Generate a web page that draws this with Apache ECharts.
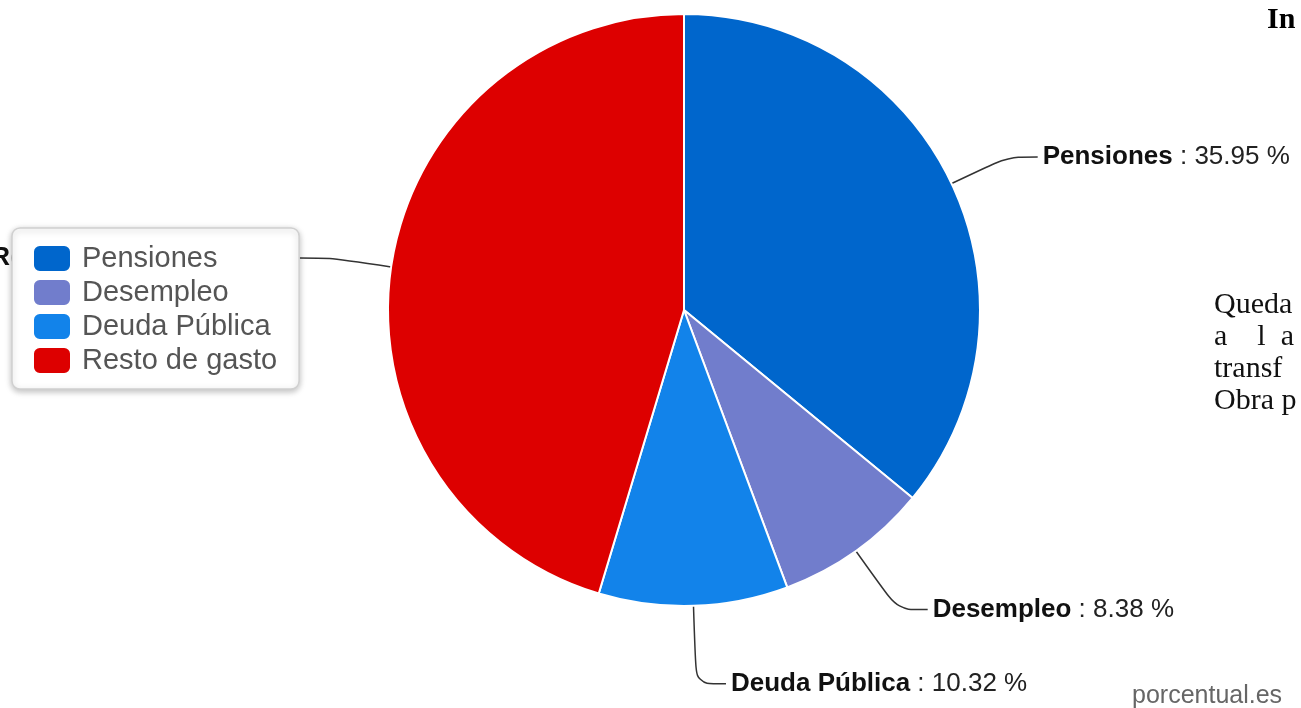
<!DOCTYPE html>
<html>
<head>
<meta charset="utf-8">
<script src="https://cdn.jsdelivr.net/npm/echarts@6/dist/echarts.min.js"></script>
<style>
  html, body { margin: 0; padding: 0; background: #fff; }
  #chart { width: 1301px; height: 708px; }
</style>
</head>
<body>
<div id="chart"></div>
<script>
// datos del gasto (%)
const categories = ['Pensiones', 'Desempleo', 'Deuda Pública', 'Resto de gasto'];
const values = [35.95, 8.38, 10.32, 45.35];
const colors = ['#0066cc', '#717dcc', '#1283ea', '#dd0000'];
const lineLengths = [62, 72, 78, 62];

// fragmentos de texto de la pagina
const sideText = ['Queda', 'a    l  a', 'transf', 'Obra p'];

const chart = echarts.init(document.getElementById('chart'));

const pieData = categories.map((name, i) => ({
  name: name,
  value: values[i],
  itemStyle: { color: colors[i] },
  labelLine: { length: lineLengths[i] }
}));

const option = {
  animation: false,
  legend: {
    orient: 'vertical',
    left: 12,
    top: 228,
    padding: [16, 22, 14, 20],
    itemWidth: 38,
    itemHeight: 27,
    itemGap: 5,
    icon: 'roundRect',
    backgroundColor: '#fff',
    borderColor: '#d0d0d0',
    borderWidth: 1.5,
    borderRadius: 8,
    shadowBlur: 6,
    shadowColor: 'rgba(0,0,0,0.25)',
    shadowOffsetY: 2,
    textStyle: {
      fontFamily: 'Liberation Sans, Arial, sans-serif',
      fontSize: 29,
      lineHeight: 28,
      color: '#555',
      padding: [0, 0, 0, 6]
    },
    data: categories
  },
  graphic: [
    {
      type: 'text', left: 1267, top: 5,
      style: { text: 'In', font: 'bold 30px "Liberation Serif", serif', fill: '#000' }
    },
    ...sideText.map((t, i) => ({
      type: 'text', left: 1214, top: 290 + i * 32,
      style: { text: t, font: '30px "Liberation Serif", serif', fill: '#111' }
    })),
    {
      type: 'text', left: 1132, top: 684,
      style: { text: 'porcentual.es', font: '25px "Liberation Sans", Arial, sans-serif', fill: '#666' }
    }
  ],
  series: [
    {
      type: 'pie',
      center: [684, 310],
      radius: 296,
      startAngle: 90,
      clockwise: true,
      itemStyle: { borderColor: '#fff', borderWidth: 2 },
      label: {
        show: true,
        position: 'outside',
        overflow: 'none',
        formatter: '{b|{b}} : {c} %',
        fontFamily: 'Liberation Sans, Arial, sans-serif',
        fontSize: 26,
        color: '#222',
        rich: {
          b: { fontWeight: 'bold', fontSize: 26, color: '#111', fontFamily: 'Liberation Sans, Arial, sans-serif' }
        }
      },
      labelLine: {
        show: true,
        length2: 30,
        smooth: 0.3,
        lineStyle: { color: '#333', width: 1.5 }
      },
      emphasis: { disabled: true },
      data: pieData
    }
  ]
};

chart.setOption(option);
</script>
</body>
</html>
